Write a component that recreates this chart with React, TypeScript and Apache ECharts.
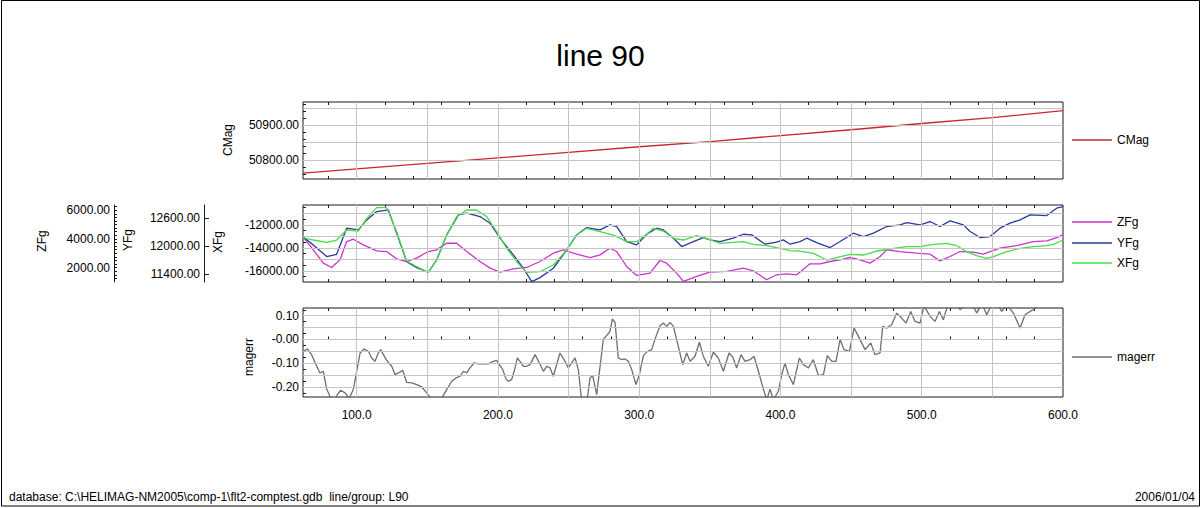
import React, { useEffect, useRef } from 'react';
import * as echarts from 'echarts';

const FONT = "'Liberation Sans', Arial, sans-serif";
const X_MIN = 62;
const X_MAX = 600;
const X_LABELS = [100, 200, 300, 400, 500, 600];
const X_GRID = [100, 150, 200, 250, 300, 350, 400, 450, 500, 550];

const CMAG_LABELS = [50800, 50900];
const CMAG_GRID = [50800, 50850, 50900, 50950];
const XFG_LABELS = [-16000, -14000, -12000];
const XFG_GRID = [-16000, -15000, -14000, -13000, -12000, -11000];
const YFG_LABELS = [11400, 12000, 12600];
const ZFG_LABELS = [2000, 4000, 6000];
const MAGERR_LABELS = [0.1, 0, -0.1, -0.2];
const MAGERR_GRID = [0.1, 0.05, 0, -0.05, -0.1, -0.15, -0.2];

const CMAG = [
  [62, 50762], [100, 50774], [150, 50790], [200, 50806], [250, 50822], [300, 50838],
  [350, 50853], [400, 50870], [450, 50887], [500, 50905], [550, 50922], [600, 50942],
];

const ZFG = [
  [62, 4139], [69.3, 3237], [76.4, 2311], [82.3, 2011], [88.2, 2543], [92.9, 3815], [97.6, 3977],
  [104.7, 3584], [114.2, 3167], [121.2, 3121], [128.3, 2612], [135.4, 2427], [142.5, 2658],
  [149.6, 3075], [156.6, 3237], [163.7, 3699], [170.8, 3699], [177.9, 3121], [187.3, 2427],
  [194.4, 1964], [201.5, 1687], [210.9, 1918], [220.3, 2011], [229.8, 2427], [239.2, 3005],
  [246.3, 3237], [255.7, 2936], [265.2, 2705], [272.3, 2890], [279.3, 3352], [284.1, 3121],
  [291.1, 2080], [298.2, 1455], [307.6, 1617], [314.7, 2496], [319.4, 2311], [326.5, 1617],
  [331.3, 1039], [340.7, 1386], [350.1, 1687], [361.9, 1733], [373.7, 1964], [380.8, 1779],
  [390.2, 1155], [397.3, 1502], [404.4, 1571], [411.5, 1502], [420.9, 2265], [428.0, 2265],
  [435.1, 2427], [442.2, 2543], [449.2, 2705], [456.3, 2543], [463.4, 2311], [470.5, 2774],
  [475.2, 3237], [484.6, 3121], [496.4, 3005], [505.9, 2936], [512.9, 2473], [520.0, 2774],
  [527.1, 3121], [536.5, 3075], [543.6, 2936], [548.4, 3121], [555.4, 3352], [567.2, 3537],
  [579.0, 3815], [588.5, 3861], [595.5, 4092], [600, 4278],
];

const YFG = [
  [62, 12195], [69.3, 12025], [78.8, 11778], [85.8, 11827], [92.9, 12379], [101.2, 12343],
  [107.1, 12555], [114.2, 12732], [122.4, 12767], [128.3, 12273], [135.4, 11672], [142.5, 11545],
  [150.7, 11446], [156.6, 11707], [163.7, 12237], [172.0, 12661], [177.9, 12697], [187.3, 12626],
  [194.4, 12485], [201.5, 12167], [210.9, 11813], [218.0, 11531], [223.9, 11248], [229.8, 11333],
  [239.2, 11531], [248.7, 11919], [255.7, 12237], [262.8, 12393], [272.3, 12343], [279.3, 12449],
  [284.1, 12414], [291.1, 12096], [298.2, 12025], [305.3, 12251], [312.4, 12379], [317.1, 12343],
  [324.2, 12167], [330.1, 11990], [338.3, 12096], [345.4, 12181], [350.1, 12131], [357.2, 12096],
  [366.6, 12167], [373.7, 12251], [379.6, 12237], [389.1, 12040], [397.3, 12082], [402.0, 12131],
  [406.8, 12040], [413.8, 12096], [418.6, 12167], [425.6, 12075], [435.1, 11969], [442.2, 12096],
  [451.6, 12273], [458.7, 12202], [465.8, 12273], [475.2, 12414], [484.6, 12449], [489.4, 12499],
  [498.8, 12449], [505.9, 12520], [512.9, 12414], [520.0, 12534], [529.5, 12449], [534.2, 12308],
  [541.3, 12181], [548.4, 12202], [555.4, 12379], [562.5, 12485], [569.6, 12555], [576.7, 12661],
  [588.5, 12647], [595.5, 12803], [600, 12838],
];

const XFG = [
  [62, -13119], [69.3, -13322], [78.8, -13525], [85.8, -13322], [92.9, -12452], [101.2, -12539],
  [107.1, -11438], [114.2, -10510], [121.2, -10510], [128.3, -12597], [135.4, -15148],
  [142.5, -15641], [150.7, -16134], [156.6, -15061], [163.7, -12887], [170.8, -11293],
  [177.9, -10713], [184.9, -10713], [192.0, -11293], [199.1, -12597], [206.2, -14046],
  [213.3, -15206], [220.3, -16134], [229.8, -16076], [239.2, -15496], [248.7, -14191],
  [255.7, -12887], [262.8, -12307], [272.3, -12597], [281.7, -12887], [291.1, -13467],
  [298.2, -13467], [305.3, -12829], [310.0, -12307], [317.1, -12539], [324.2, -13177],
  [331.3, -13322], [340.7, -12945], [350.1, -13300], [357.2, -13612], [366.6, -13525],
  [373.7, -13467], [380.8, -13699], [390.2, -13815], [399.7, -14046], [406.8, -14249],
  [413.8, -14278], [423.3, -14481], [432.7, -15061], [439.8, -14858], [449.2, -14568],
  [458.7, -14626], [468.1, -14278], [477.6, -14104], [489.4, -13901], [498.8, -13901],
  [508.2, -13699], [517.7, -13612], [524.8, -13815], [531.8, -14336], [538.9, -14684],
  [546.0, -14916], [550.7, -14771], [560.2, -14336], [569.6, -14046], [579.0, -13901],
  [588.5, -13815], [593.2, -13699], [600, -13322],
];

const MAGERR = [
  [62.2, -0.05], [65.1, -0.04], [68.1, -0.064], [71.7, -0.113], [74.0, -0.141], [76.4, -0.134],
  [78.8, -0.211], [80.6, -0.232], [82.3, -0.268], [84.7, -0.261], [86.3, -0.232], [88.7, -0.214],
  [91.7, -0.225], [94.8, -0.247], [97.6, -0.211], [100.0, -0.134], [102.4, -0.057], [105.2, -0.04],
  [108.3, -0.05], [110.6, -0.078], [113.0, -0.092], [115.3, -0.057], [117.0, -0.043], [118.9, -0.064],
  [121.7, -0.092], [124.8, -0.113], [127.1, -0.148], [129.5, -0.141], [132.6, -0.13], [135.4, -0.181],
  [139.0, -0.183], [142.5, -0.19], [146.0, -0.2], [149.6, -0.225], [153.1, -0.254], [155.5, -0.268],
  [157.8, -0.268], [160.2, -0.247], [163.7, -0.211], [167.3, -0.176], [170.3, -0.162], [173.2, -0.155],
  [175.5, -0.134], [177.9, -0.141], [180.2, -0.12], [183.1, -0.099], [186.1, -0.103], [189.7, -0.102],
  [193.2, -0.103], [196.7, -0.092], [199.1, -0.088], [201.0, -0.106], [203.4, -0.127], [205.7, -0.167],
  [207.4, -0.176], [209.7, -0.169], [212.1, -0.12], [213.7, -0.078], [215.6, -0.092], [218.0, -0.113],
  [220.4, -0.113], [222.7, -0.106], [226.3, -0.064], [229.3, -0.099], [232.2, -0.134], [234.5, -0.113],
  [236.9, -0.12], [239.2, -0.155], [243.9, -0.057], [247.5, -0.092], [249.8, -0.12], [254.6, -0.078],
  [256.9, -0.127], [259.3, -0.261], [261.2, -0.275], [262.8, -0.268], [265.2, -0.162], [267.1, -0.152],
  [269.9, -0.232], [272.3, -0.113], [274.6, 0.0], [277.5, 0.02], [279.3, 0.034], [281.0, 0.086],
  [282.9, 0.072], [285.2, -0.078], [287.6, -0.085], [290.0, -0.082], [292.3, -0.092], [294.7, -0.127],
  [297.7, -0.19], [300.1, -0.148], [303.0, -0.068], [305.8, -0.05], [308.8, -0.043], [311.9, 0.013],
  [314.7, 0.058], [317.1, 0.069], [319.5, 0.055], [321.8, 0.072], [324.2, 0.055], [327.7, -0.029],
  [330.8, -0.106], [333.6, -0.057], [336.0, -0.092], [339.5, -0.071], [342.6, -0.012], [345.4, -0.071],
  [348.9, -0.113], [352.5, -0.054], [356.0, -0.078], [359.6, -0.134], [363.6, -0.057], [366.2, -0.074],
  [369.0, -0.12], [372.1, -0.064], [374.9, -0.092], [378.5, -0.085], [381.3, -0.071], [384.4, -0.134],
  [387.9, -0.209], [390.3, -0.254], [392.6, -0.209], [395.0, -0.254], [398.5, -0.218], [400.9, -0.148],
  [403.2, -0.099], [405.6, -0.148], [409.1, -0.19], [413.4, -0.078], [416.2, -0.106], [419.8, -0.12],
  [423.3, -0.085], [426.8, -0.152], [430.4, -0.148], [433.2, -0.068], [436.3, -0.092], [439.3, -0.092],
  [442.2, 0.0], [445.0, -0.043], [448.8, -0.05], [452.1, 0.048], [455.2, 0.013], [459.9, -0.043],
  [463.9, -0.015], [466.9, -0.064], [470.5, -0.057], [472.4, 0.055], [475.2, 0.048], [478.7, 0.062],
  [482.3, 0.111], [485.8, 0.09], [488.9, 0.069], [492.2, 0.118], [495.3, 0.076], [498.8, 0.069],
  [501.6, 0.142], [505.9, 0.097], [509.4, 0.076], [512.5, 0.118], [515.3, 0.083], [518.1, 0.139],
  [520.5, 0.167], [524.8, 0.16], [527.1, 0.125], [530.7, 0.146], [534.2, 0.167], [538.9, 0.111],
  [542.5, 0.153], [546.0, 0.104], [548.8, 0.139], [551.9, 0.167], [556.6, 0.118], [560.2, 0.146],
  [564.9, 0.111], [569.6, 0.048], [573.1, 0.104], [576.7, 0.118], [579.0, 0.125], [583, 0.15],
  [590, 0.17], [600, 0.16],
];

function steps(a: number, b: number, s: number): number[] {
  const out: number[] = [];
  const n = Math.round((b - a) / s);
  for (let i = 0; i <= n; i++) out.push(Number((a + i * s).toFixed(4)));
  return out;
}

const X_TICKS = steps(80, 580, 20);
const CMAG_TICKS = steps(50760, 50960, 20);
const XFG_TICKS = steps(-16500, -10500, 500);
const ZFG_TICKS = steps(1250, 6250, 250);
const MAGERR_TICKS = steps(-0.225, 0.125, 0.025);

const GRID_COLOR = '#c4c4c4';
const AXIS_COLOR = '#1a1a1a';

function App() {
  const ref = useRef<HTMLDivElement>(null);
  useEffect(() => {
    document.body.style.margin = '0';
    const chart = echarts.init(ref.current!, null, { renderer: 'svg' });

    const labelStyle = { color: '#000', fontSize: 12, fontFamily: FONT };
    const grids = [
      { left: 303, top: 102, width: 760, height: 77 },
      { left: 303, top: 205, width: 760, height: 77 },
      { left: 303, top: 308, width: 760, height: 89 },
    ].map((g) => ({ ...g, show: true, borderColor: AXIS_COLOR, borderWidth: 1, backgroundColor: 'transparent' }));

    const xAxes: any[] = [];
    for (let g = 0; g < 3; g++) {
      xAxes.push({
        type: 'value', gridIndex: g, min: X_MIN, max: X_MAX, position: 'bottom',
        axisLine: { show: false },
        axisTick: { show: true, inside: true, length: 3, customValues: X_TICKS, lineStyle: { color: AXIS_COLOR } },
        axisLabel: { show: g === 2, customValues: X_LABELS, formatter: (v: number) => v.toFixed(1), margin: 12, ...labelStyle },
        splitLine: { show: false },
      });
    }
    for (let g = 0; g < 3; g++) {
      xAxes.push({
        type: 'value', gridIndex: g, min: X_MIN, max: X_MAX, position: 'top',
        axisLine: { show: false },
        axisTick: { show: true, inside: true, length: 3, customValues: X_TICKS, lineStyle: { color: AXIS_COLOR } },
        axisLabel: { show: false },
        splitLine: { show: false },
      });
    }

    const yBase = (gridIndex: number, min: number, max: number, ticks: number[], labels: number[], fmt: (v: number) => string) => ({
      type: 'value', gridIndex, min, max, position: 'left',
      axisLine: { show: false },
      axisTick: { show: true, inside: true, length: 3, customValues: ticks, lineStyle: { color: AXIS_COLOR } },
      axisLabel: { show: true, customValues: labels, formatter: fmt, margin: 4, ...labelStyle },
      splitLine: { show: false },
    });

    const f2 = (v: number) => v.toFixed(2);
    const yAxes: any[] = [
      yBase(0, 50745, 50967, CMAG_TICKS, CMAG_LABELS, f2),
      yBase(1, -16970, -10280, XFG_TICKS, XFG_LABELS, f2),
      {
        ...yBase(1, 11240, 12870, YFG_LABELS, YFG_LABELS, f2),
        offset: 99,
        axisLine: { show: true, lineStyle: { color: AXIS_COLOR, width: 1 } },
        axisTick: { show: true, inside: true, length: 5, customValues: YFG_LABELS, lineStyle: { color: AXIS_COLOR } },
      },
      {
        ...yBase(1, 1000, 6360, ZFG_TICKS, ZFG_LABELS, f2),
        offset: 189,
        axisLine: { show: true, lineStyle: { color: AXIS_COLOR, width: 1 } },
      },
      yBase(2, -0.2423, 0.1324, MAGERR_TICKS, MAGERR_LABELS, (v: number) => (v === 0 ? '-0.00' : v.toFixed(2))),
    ];

    const gridLines = (xIdx: number, yIdx: number, yVals: number[]) => ({
      type: 'line', xAxisIndex: xIdx, yAxisIndex: yIdx, data: [], silent: true, z: 1,
      markLine: {
        silent: true, symbol: ['none', 'none'], label: { show: false }, animation: false,
        emphasis: { disabled: true },
        lineStyle: { color: GRID_COLOR, width: 1, type: 'solid' },
        data: [...X_GRID.map((v) => ({ xAxis: v })), ...yVals.map((v) => ({ yAxis: v }))],
      },
    });

    const lineSeries = (name: string, data: number[][], xIdx: number, yIdx: number, color: string) => ({
      name, type: 'line', data, xAxisIndex: xIdx, yAxisIndex: yIdx, showSymbol: false, symbol: 'none',
      z: 3, clip: true, color, itemStyle: { color },
      lineStyle: { color, width: 1.3 },
      emphasis: { disabled: true },
    });

    const legend = (name: string, top: number) => ({
      data: [name], left: 1072, top, padding: 0, selectedMode: false,
      icon: 'rect', itemWidth: 40, itemHeight: 1.5,
      textStyle: { color: '#000', fontSize: 12, fontFamily: FONT },
    });

    const nameText = (text: string, x: number, y: number) => ({
      type: 'text', x, y, rotation: Math.PI / 2, silent: true,
      style: { text, fill: '#000', font: `12px ${FONT}`, align: 'center', verticalAlign: 'middle' },
    });

    chart.setOption({
      animation: false,
      backgroundColor: '#fff',
      title: {
        text: 'line 90', left: 'center', top: 35,
        textStyle: { fontSize: 30, fontWeight: 'normal', fontFamily: FONT, color: '#000' },
      },
      grid: grids,
      xAxis: xAxes,
      yAxis: yAxes,
      legend: [
        legend('CMag', 134),
        legend('ZFg', 216),
        legend('YFg', 237),
        legend('XFg', 257),
        legend('magerr', 351),
      ],
      series: [
        gridLines(0, 0, CMAG_GRID),
        gridLines(1, 1, XFG_GRID),
        gridLines(2, 4, MAGERR_GRID),
        lineSeries('CMag', CMAG, 0, 0, '#c8282d'),
        lineSeries('ZFg', ZFG, 1, 3, '#cc33cc'),
        lineSeries('YFg', YFG, 1, 2, '#2b3a9c'),
        lineSeries('XFg', XFG, 1, 1, '#44dd44'),
        lineSeries('magerr', MAGERR, 2, 4, '#6e6e6e'),
      ],
      graphic: [
        {
          type: 'rect', silent: true,
          shape: { x: 1.5, y: 0.5, width: 1198, height: 505.5 },
          style: { fill: 'none', stroke: '#000', lineWidth: 1 },
        },
        nameText('CMag', 228, 140),
        nameText('ZFg', 42, 241),
        nameText('YFg', 128, 240),
        nameText('XFg', 218, 242),
        nameText('magerr', 249, 357),
        {
          type: 'text', x: 9, y: 497, silent: true,
          style: {
            text: 'database: C:\\HELIMAG-NM2005\\comp-1\\flt2-comptest.gdb  line/group: L90',
            fill: '#000', font: `12px ${FONT}`, align: 'left', verticalAlign: 'middle',
          },
        },
        {
          type: 'text', x: 1195, y: 497, silent: true,
          style: { text: '2006/01/04', fill: '#000', font: `12px ${FONT}`, align: 'right', verticalAlign: 'middle' },
        },
      ],
    });
    return () => chart.dispose();
  }, []);
  return <div ref={ref} style={{ width: 1201, height: 508 }} />;
}

export default App;
